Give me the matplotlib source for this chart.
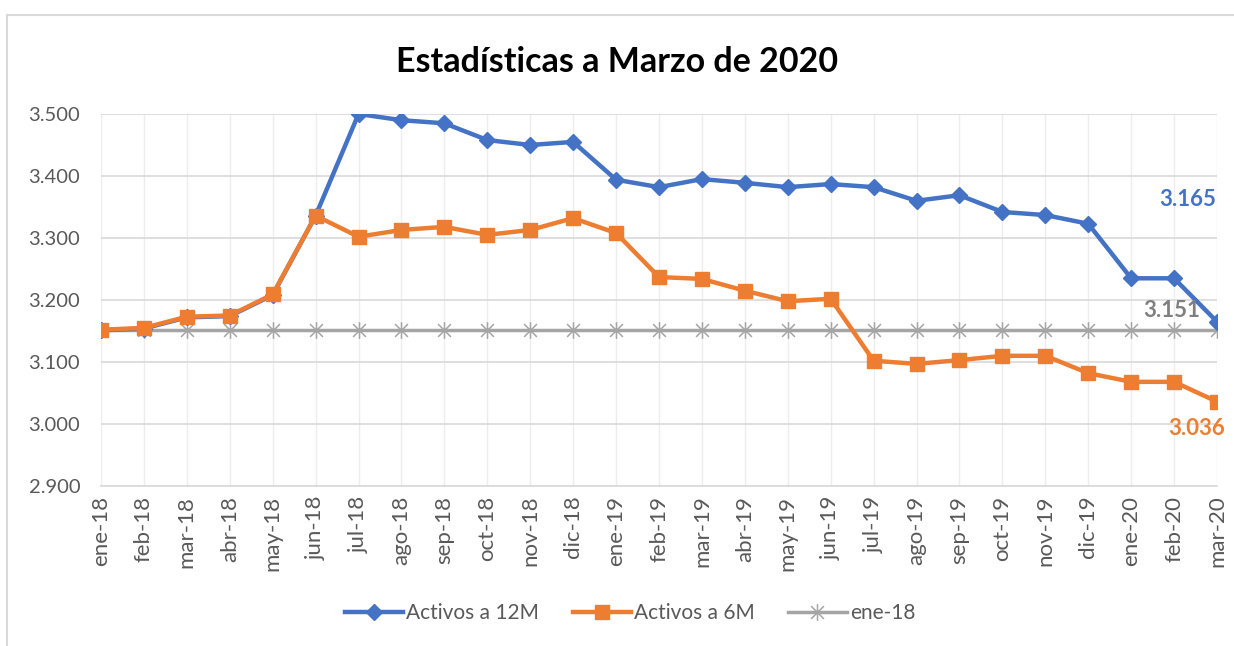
import matplotlib
matplotlib.use('Agg')
import matplotlib.pyplot as plt
from matplotlib.lines import Line2D
from matplotlib.path import Path
from matplotlib.ticker import FuncFormatter

plt.rcParams['font.family'] = ['Lato', 'DejaVu Sans']

# Data
months = ['ene-18', 'feb-18', 'mar-18', 'abr-18', 'may-18', 'jun-18', 'jul-18', 'ago-18',
          'sep-18', 'oct-18', 'nov-18', 'dic-18', 'ene-19', 'feb-19', 'mar-19', 'abr-19',
          'may-19', 'jun-19', 'jul-19', 'ago-19', 'sep-19', 'oct-19', 'nov-19', 'dic-19',
          'ene-20', 'feb-20', 'mar-20']
activos_12m = [3.151, 3.154, 3.172, 3.174, 3.208, 3.336, 3.500, 3.490, 3.485, 3.458,
               3.450, 3.455, 3.394, 3.382, 3.395, 3.389, 3.382, 3.387, 3.382, 3.360,
               3.369, 3.342, 3.337, 3.323, 3.235, 3.235, 3.165]
activos_6m = [3.152, 3.155, 3.173, 3.175, 3.209, 3.336, 3.302, 3.313, 3.318, 3.305,
              3.313, 3.332, 3.308, 3.237, 3.234, 3.215, 3.198, 3.202, 3.102, 3.097,
              3.103, 3.110, 3.110, 3.082, 3.068, 3.068, 3.036]
base_ene18 = [3.151] * len(months)

blue = '#4472C4'
orange = '#ED7D31'
gray = '#A5A5A5'
x = list(range(len(months)))

# Excel style asterisk: an x with a vertical bar
star = Path([(-1, -1), (1, 1), (-1, 1), (1, -1), (0, -1.3), (0, 1.3)],
            [Path.MOVETO, Path.LINETO, Path.MOVETO, Path.LINETO, Path.MOVETO, Path.LINETO])

fig = plt.figure(figsize=(12.34, 6.46), dpi=100)
ax = fig.add_axes([101 / 1234, 1 - 486 / 646, (1217 - 101) / 1234, (486 - 114) / 646])

ax.plot(x, activos_12m, color=blue, lw=3.2, marker='D', ms=8.5, label='Activos a 12M', zorder=3)
ax.plot(x, activos_6m, color=orange, lw=3.2, marker='s', ms=10.5, label='Activos a 6M', zorder=4)
ax.plot(x, base_ene18, color=gray, lw=2.5, marker=star, ms=12, mew=1.1, mfc='none', mec=gray,
        label='ene-18', zorder=2)

ax.set_xlim(0, len(months) - 1)
ax.set_ylim(2.9, 3.5)
ax.set_yticks([2.9, 3.0, 3.1, 3.2, 3.3, 3.4, 3.5])
ax.yaxis.set_major_formatter(FuncFormatter(lambda v, p: f'{v:.3f}'))
ax.set_xticks(x)
ax.set_xticklabels(months, rotation=90)
ax.tick_params(axis='both', length=0, colors='#595959')
ax.tick_params(axis='y', labelsize=14.5, pad=15)
ax.tick_params(axis='x', labelsize=16, pad=7)

ax.grid(axis='y', color='#D9D9D9', lw=1.2)
ax.grid(axis='x', color='#EDEDED', lw=1)
ax.set_axisbelow(True)
for s in ['left', 'right', 'top']:
    ax.spines[s].set_visible(False)
ax.spines['bottom'].set_color('#D9D9D9')
ax.spines['bottom'].set_linewidth(1.2)

# end labels
last = len(months) - 1
ax.annotate(f'{activos_12m[-1]:.3f}', (last, activos_12m[-1]),
            xytext=(-1, 88), textcoords='offset points', ha='right', va='center',
            color=blue, fontsize=16, fontweight='bold')
ax.annotate(f'{base_ene18[-1]:.3f}', (last, base_ene18[-1]),
            xytext=(-12, 14), textcoords='offset points', ha='right', va='center',
            color='#7F7F7F', fontsize=16, fontweight='bold')
ax.annotate(f'{activos_6m[-1]:.3f}', (last, activos_6m[-1]),
            xytext=(6, -19), textcoords='offset points', ha='right', va='center',
            color=orange, fontsize=16, fontweight='bold')

fig.text(617 / 1234, 1 - 62 / 646, 'Estadísticas a Marzo de 2020', ha='center', va='center',
         fontsize=24.5, fontweight='bold', color='black')

leg = fig.legend(loc='center', bbox_to_anchor=(630 / 1234, 1 - 613 / 646), ncol=3,
                 frameon=False, fontsize=15, handlelength=2.8, columnspacing=1.6,
                 handletextpad=0.15)
for t in leg.get_texts():
    t.set_color('#595959')

# chart border
fig.add_artist(Line2D([7 / 1234, 7 / 1234], [0, 1 - 15 / 646], color='#D9D9D9', lw=1.5))
fig.add_artist(Line2D([7 / 1234, 1], [1 - 15 / 646, 1 - 15 / 646], color='#D9D9D9', lw=1.5))

fig.savefig('out.png', dpi=100, facecolor='white')
